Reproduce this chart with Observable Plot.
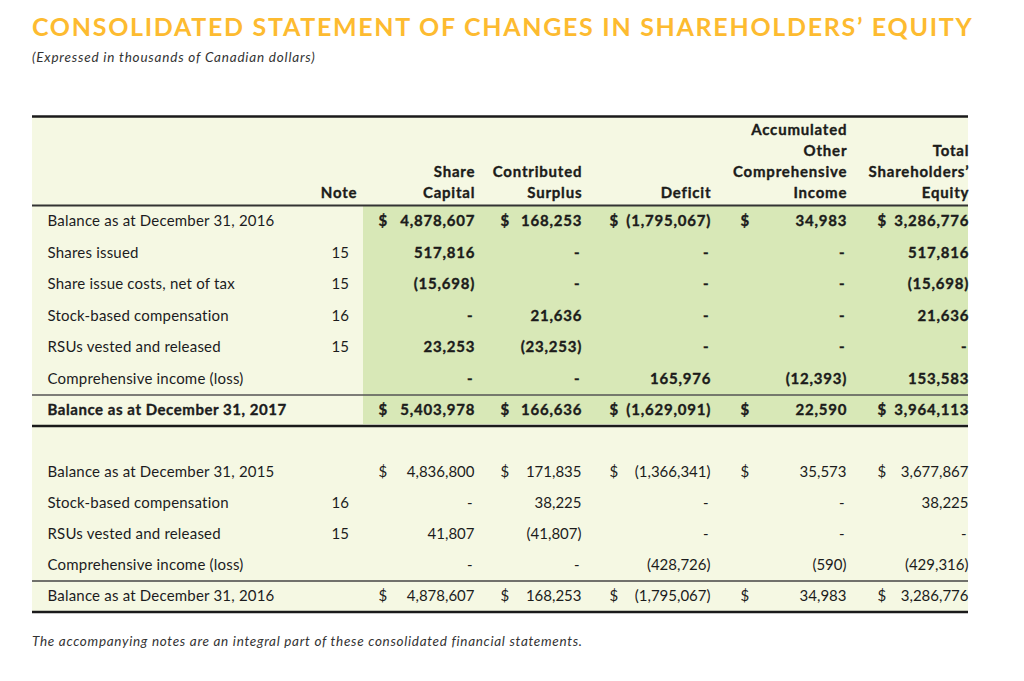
<!DOCTYPE html>
<html><head><meta charset="utf-8">
<script src="https://cdn.jsdelivr.net/npm/d3@7"></script>
<script src="https://cdn.jsdelivr.net/npm/@observablehq/plot@0.6"></script>
<style>
body{margin:0;background:#fff;font-family:Lato,"Noto Sans",sans-serif;}
#title{padding:11px 0 0 32px;font-size:25px;line-height:30px;height:30px;color:#FDBB30;font-weight:700;letter-spacing:1.7px;white-space:nowrap}
#subtitle{margin:8px 0 0 32px;font-size:13.5px;line-height:16px;height:16px;font-style:italic;color:#333;letter-spacing:0.8px}
#chart{margin-top:35px;height:530px}
#caption{margin:3px 0 0 32px;font-size:13.5px;line-height:16px;font-style:italic;color:#333;letter-spacing:0.7px}
</style></head><body>
<div id="title">CONSOLIDATED STATEMENT OF CHANGES IN SHAREHOLDERS’ EQUITY</div>
<div id="subtitle">(Expressed in thousands of Canadian dollars)</div>
<div id="chart"></div>
<div id="caption">The accompanying notes are an integral part of these consolidated financial statements.</div>
<script>
// ---- data ----
const rowLabels2017 = ["Balance as at December 31, 2016","Shares issued","Share issue costs, net of tax","Stock-based compensation","RSUs vested and released","Comprehensive income (loss)","Balance as at December 31, 2017"];
const notes2017 = ["","15","15","16","15","",""];
const shareCapital2017 = [4878607, 517816, -15698, null, 23253, null, 5403978];
const contributedSurplus2017 = [168253, null, null, 21636, -23253, null, 166636];
const deficit2017 = [-1795067, null, null, null, null, 165976, -1629091];
const aoci2017 = [34983, null, null, null, null, -12393, 22590];
const totalEquity2017 = [3286776, 517816, -15698, 21636, null, 153583, 3964113];

const rowLabels2016 = ["Balance as at December 31, 2015","Stock-based compensation","RSUs vested and released","Comprehensive income (loss)","Balance as at December 31, 2016"];
const notes2016 = ["","16","15","",""];
const shareCapital2016 = [4836800, null, 41807, null, 4878607];
const contributedSurplus2016 = [171835, 38225, -41807, null, 168253];
const deficit2016 = [-1366341, null, null, -428726, -1795067];
const aoci2016 = [35573, null, null, -590, 34983];
const totalEquity2016 = [3677867, 38225, null, -429316, 3286776];

const columnHeaders = [["Share","Capital"],["Contributed","Surplus"],["Deficit"],["Accumulated","Other","Comprehensive","Income"],["Total","Shareholders’","Equity"]];
const noteHeader = "Note";

// ---- layout (positions in page pixels) ----
const L = {
  left: 32, right: 968, labelX: 47, noteX: 331, noteHeaderRight: 356,
  cols: [{right:474,dollar:378},{right:581,dollar:500},{right:710,dollar:609},{right:846,dollar:740},{right:968,dollar:877}],
  tableTop: 116, headerBottom: 205, headerLastY: 193, headerStep: 21,
  sec1Y0: 221, sec1Step: 31.5, sec1Rule: 394.5, sec1Bottom: 425.5,
  sec2Y0: 472, sec2Step: 31, sec2Rule: 580.5, sec2Bottom: 611.5,
  shadeLeft: 363, shadeTop: 206, shadeBottom: 424, bgBottom: 611
};

const fmtN = d3.format(",");
const fmt = v => v == null ? "-" : v < 0 ? `(${fmtN(-v)})` : fmtN(v);

function buildSection(labels, notes, series, y0, step, section) {
  const cells = [];
  labels.forEach((lab, i) => {
    const y = y0 + i * step;
    const balance = i === 0 || i === labels.length - 1;
    cells.push({kind: "label", section, bold: section === 1 && i === labels.length - 1, x: L.labelX, y, text: lab});
    if (notes[i]) cells.push({kind: "note", section, x: L.noteX, y, text: notes[i]});
    series.forEach((s, c) => {
      const v = s[i];
      cells.push({kind: "value", section, x: L.cols[c].right - (v == null ? 2 : 0), y, text: fmt(v)});
      if (balance) cells.push({kind: "dollar", section, x: L.cols[c].dollar, y, text: "$"});
    });
  });
  return cells;
}

const cells = [
  ...buildSection(rowLabels2017, notes2017, [shareCapital2017, contributedSurplus2017, deficit2017, aoci2017, totalEquity2017], L.sec1Y0, L.sec1Step, 1),
  ...buildSection(rowLabels2016, notes2016, [shareCapital2016, contributedSurplus2016, deficit2016, aoci2016, totalEquity2016], L.sec2Y0, L.sec2Step, 2)
];

const headerCells = [];
columnHeaders.forEach((lines, c) => {
  lines.forEach((t, j) => {
    headerCells.push({x: L.cols[c].right, y: L.headerLastY - (lines.length - 1 - j) * L.headerStep, text: t});
  });
});
headerCells.push({x: L.noteHeaderRight, y: L.headerLastY, text: noteHeader});

const rules = [
  {y: L.tableTop, w: 2.5, c: "#1a1a1a"},
  {y: L.headerBottom, w: 2, c: "#333"},
  {y: L.sec1Rule, w: 1.5, c: "#555"},
  {y: L.sec1Bottom, w: 2.5, c: "#1a1a1a"},
  {y: L.sec2Rule, w: 1.5, c: "#444"},
  {y: L.sec2Bottom, w: 2.5, c: "#1a1a1a"}
];

// distinct near-identical inks let us tweak letter spacing per text group after render
const inkHeader = "#1c1c1a", inkBoldVal = "#1c1c1b", inkBoldLab = "#1c1c1d", inkLab = "#1c1c1e", ink = "#1c1c1c";
const spacing = {[inkHeader]: 0.8, [inkBoldVal]: 0.8, [inkBoldLab]: 0.55, [inkLab]: 0.2};
const fs = 15;
const sel = (f) => cells.filter(f);
const bold = (c) => ({fontWeight: 700, fontSize: fs, fill: c, stroke: c, strokeWidth: 0.35});

const chart = Plot.plot({
  width: 1024, height: 530, margin: 0,
  x: {type: "linear", domain: [0, 1024], range: [0, 1024], axis: null},
  y: {type: "linear", domain: [100, 630], range: [0, 530], axis: null},
  style: {fontFamily: "Lato, 'Noto Sans', sans-serif", display: "block", background: "transparent"},
  marks: [
    Plot.rect([0], {x1: L.left, x2: L.right, y1: L.tableTop, y2: L.bgBottom, fill: "#F5F8E3"}),
    Plot.rect([0], {x1: L.shadeLeft, x2: L.right, y1: L.shadeTop, y2: L.shadeBottom, fill: "#D8E8B7"}),
    Plot.ruleY(rules, {y: "y", x1: L.left, x2: L.right, stroke: "c", strokeWidth: "w"}),
    Plot.text(headerCells, {x: "x", y: "y", text: "text", textAnchor: "end", dx: 0.8, ...bold(inkHeader)}),
    Plot.text(sel(d => d.kind === "label" && !d.bold), {x: "x", y: "y", text: "text", textAnchor: "start", fontSize: fs, fill: inkLab}),
    Plot.text(sel(d => d.kind === "label" && d.bold), {x: "x", y: "y", text: "text", textAnchor: "start", ...bold(inkBoldLab)}),
    Plot.text(sel(d => d.kind === "note"), {x: "x", y: "y", text: "text", textAnchor: "start", fontSize: fs, fill: ink}),
    Plot.text(sel(d => d.kind === "value" && d.section === 1), {x: "x", y: "y", text: "text", textAnchor: "end", dx: 0.8, ...bold(inkBoldVal)}),
    Plot.text(sel(d => d.kind === "dollar" && d.section === 1), {x: "x", y: "y", text: "text", textAnchor: "start", ...bold(ink)}),
    Plot.text(sel(d => d.kind === "value" && d.section === 2), {x: "x", y: "y", text: "text", textAnchor: "end", fontSize: fs, fill: ink}),
    Plot.text(sel(d => d.kind === "dollar" && d.section === 2), {x: "x", y: "y", text: "text", textAnchor: "start", fontSize: fs, fill: ink})
  ]
});
d3.select(chart).selectAll("g").each(function() {
  const f = (this.getAttribute("fill") || "").toLowerCase();
  if (spacing[f] != null) d3.select(this).selectAll("text").style("letter-spacing", spacing[f] + "px");
});
document.getElementById("chart").appendChild(chart);
</script>
</body></html>
